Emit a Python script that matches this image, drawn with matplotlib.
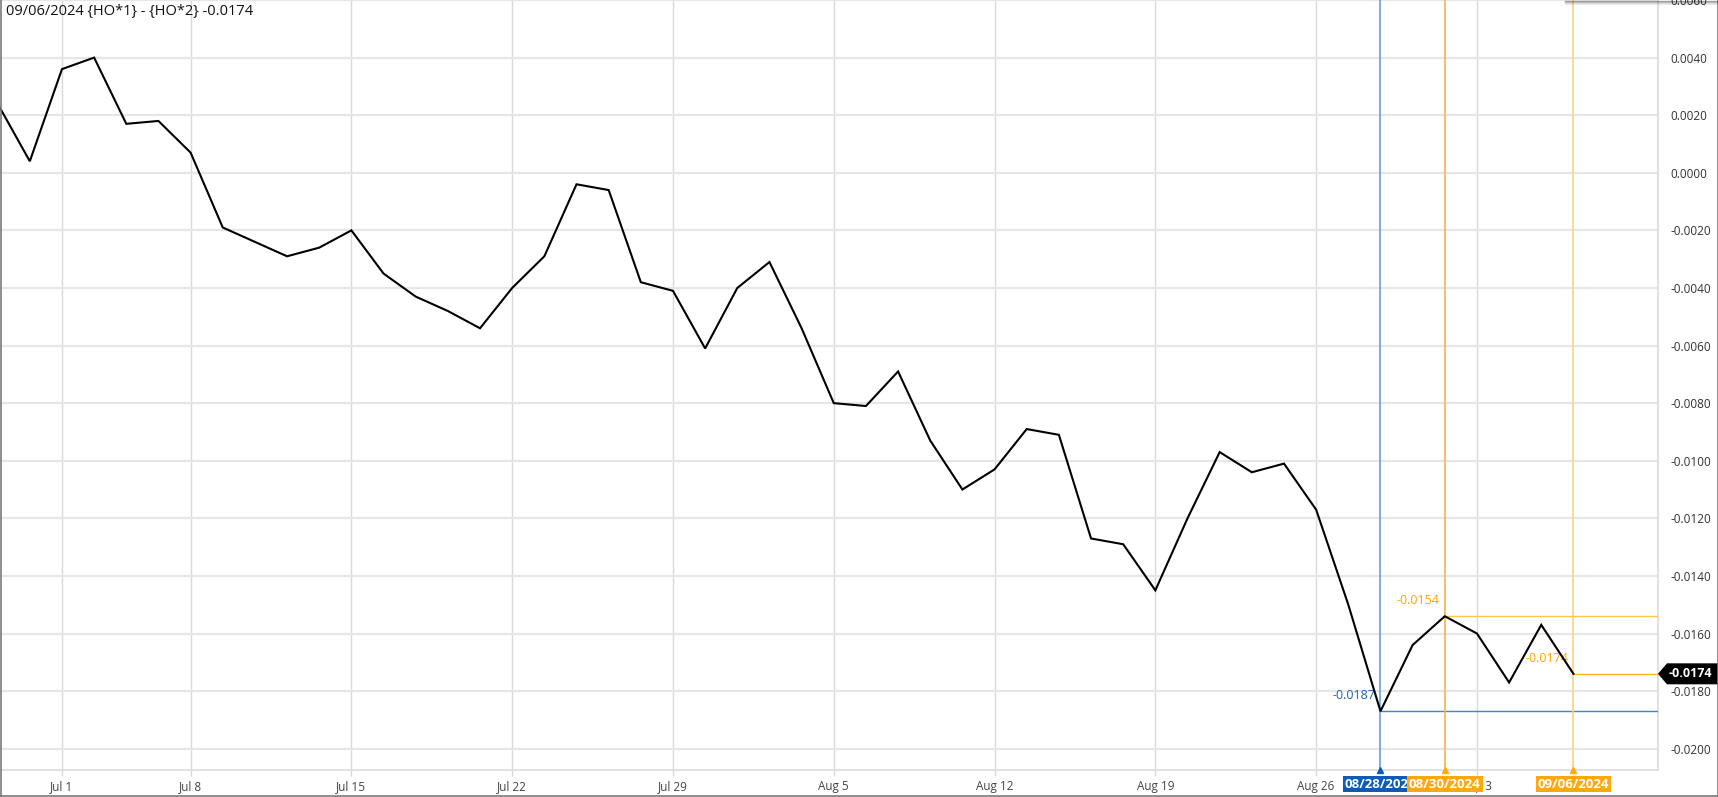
import matplotlib
matplotlib.use("Agg")
import matplotlib.pyplot as plt
from matplotlib.patches import Polygon
from matplotlib.lines import Line2D

plt.rcParams['font.family'] = ['Open Sans', 'DejaVu Sans']

# 거래일 (Jun 27 ~ Sep 6, 2024, 휴일 제외)
dates = ['06/27', '06/28', '07/01', '07/02', '07/03', '07/05',
         '07/08', '07/09', '07/10', '07/11', '07/12',
         '07/15', '07/16', '07/17', '07/18', '07/19',
         '07/22', '07/23', '07/24', '07/25', '07/26',
         '07/29', '07/30', '07/31', '08/01', '08/02',
         '08/05', '08/06', '08/07', '08/08', '08/09',
         '08/12', '08/13', '08/14', '08/15', '08/16',
         '08/19', '08/20', '08/21', '08/22', '08/23',
         '08/26', '08/27', '08/28', '08/29', '08/30',
         '09/03', '09/04', '09/05', '09/06']
spread = [0.0024, 0.0004, 0.0036, 0.0040, 0.0017, 0.0018,
          0.0007, -0.0019, -0.0024, -0.0029, -0.0026,
          -0.0020, -0.0035, -0.0043, -0.0048, -0.0054,
          -0.0040, -0.0029, -0.0004, -0.0006, -0.0038,
          -0.0041, -0.0061, -0.0040, -0.0031, -0.0054,
          -0.0080, -0.0081, -0.0069, -0.0093, -0.0110,
          -0.0103, -0.0089, -0.0091, -0.0127, -0.0129,
          -0.0145, -0.0120, -0.0097, -0.0104, -0.0101,
          -0.0117, -0.0150, -0.0187, -0.0164, -0.0154,
          -0.0160, -0.0177, -0.0157, -0.0174]

tick_dates = ['07/01', '07/08', '07/15', '07/22', '07/29',
              '08/05', '08/12', '08/19', '08/26', '09/03']
tick_labels = ['Jul 1', 'Jul 8', 'Jul 15', 'Jul 22', 'Jul 29',
               'Aug 5', 'Aug 12', 'Aug 19', 'Aug 26', 'Sep 3']
y_ticks = [-0.0200, -0.0180, -0.0160, -0.0140, -0.0120, -0.0100, -0.0080,
           -0.0060, -0.0040, -0.0020, 0.0000, 0.0020, 0.0040, 0.0060]

# 표시 마커 (날짜, 색)
blue_mark = ('08/28', '#0b5cb8', '#6b9fd9')
orange_marks = [('08/30', '#ffa70f', '#f9b443'), ('09/06', '#ffa70f', '#ffcf7a')]
title = '09/06/2024 {HO*1} - {HO*2} -0.0174'

x = list(range(len(dates)))
idx = {d: i for i, d in enumerate(dates)}

W, H = 1718, 797
fig = plt.figure(figsize=(W / 100, H / 100), dpi=100)
ax = fig.add_axes([0, 27 / H, 1658 / W, 770 / H])

ax.plot(x, spread, color='black', lw=1.5, zorder=5, solid_joinstyle='miter')
ax.set_xlim(0.073, 51.63)
ax.set_ylim(-0.02074, 0.0060)

# 축
ax.set_xticks([idx[d] for d in tick_dates])
ax.set_xticklabels(tick_labels)
ax.set_yticks(y_ticks)
ax.set_yticklabels(['%.4f' % v for v in y_ticks])
ax.yaxis.tick_right()
ax.tick_params(axis='y', length=0, pad=9, labelsize=8.5, labelcolor='#333333')
ax.tick_params(axis='x', length=4, width=1, color='#d8d8d8', pad=3,
               labelsize=8.5, labelcolor='#444444')
ax.grid(axis='y', color='#e6e6e6', lw=1.6)
ax.grid(axis='x', color='#d9d9d9', lw=1)
ax.set_axisbelow(True)
for s in ['top', 'left']:
    ax.spines[s].set_visible(False)
for s in ['right', 'bottom']:
    ax.spines[s].set_color('#dcdcdc')
    ax.spines[s].set_linewidth(1.2)

flag_style = dict(xycoords=('data', 'axes fraction'), xytext=(0, -14),
                  textcoords='offset pixels', ha='center', va='center',
                  fontsize=9.5, fontweight='bold', color='white',
                  annotation_clip=False)

# 파란 마커 (최저)
d, c_txt, c_line = blue_mark
i = idx[d]
v = spread[i]
ax.axvline(i, color=c_line, lw=1.2, zorder=3)
ax.hlines(v, i, 51.63, color='#3d85d0', lw=1, zorder=3)
ax.annotate('%.4f' % v, xy=(i, v), xytext=(-5, 9), textcoords='offset pixels',
            ha='right', va='bottom', fontsize=9, color='#1a62bd')
ax.annotate('08/28/2024', xy=(i, 0), zorder=6,
            bbox=dict(boxstyle='square,pad=0.15', fc=c_txt, ec='none'), **flag_style)
ax.plot([i], [0], marker='^', ms=5, color=c_txt, clip_on=False, zorder=6,
        transform=ax.get_xaxis_transform())

# 주황 마커
for k, (d, c_txt, c_line) in enumerate(orange_marks):
    i = idx[d]
    v = spread[i]
    ax.axvline(i, color=c_line, lw=1.2, zorder=3)
    ax.hlines(v, i, 51.63, color='#ffc54d' if k == 0 else '#ffb224', lw=1, zorder=3)
    ax.annotate('%.4f' % v, xy=(i, v), xytext=(-5, 9), textcoords='offset pixels',
                ha='right', va='bottom', fontsize=9, color='#ffa500')
    ax.annotate(dates[i][:2] + '/' + dates[i][3:] + '/2024', xy=(i, 0), zorder=7 + k,
                bbox=dict(boxstyle='square,pad=0.15', fc=c_txt, ec='none'),
                **flag_style)
    ax.plot([i], [0], marker='^', ms=5, color=c_txt, clip_on=False, zorder=7 + k,
            transform=ax.get_xaxis_transform())

# 마지막 값 태그
last = spread[-1]
tr = ax.get_yaxis_transform()
dx = 1 / 1658
dy = 1 / 28800
tag = Polygon([(1.0, last), (1 + 9 * dx, last + 10.5 * dy),
               (1 + 62 * dx, last + 10.5 * dy), (1 + 62 * dx, last - 10.5 * dy),
               (1 + 9 * dx, last - 10.5 * dy)],
              closed=True, transform=tr, fc='black', ec='none',
              clip_on=False, zorder=8)
ax.add_patch(tag)
ax.text(1 + 11 * dx, last, '%.4f' % last, transform=tr, ha='left', va='center',
        fontsize=9, fontweight='bold', color='white', zorder=9)

# 제목
fig.text(6 / W, 1 - 12 / H, title, ha='left', va='center', fontsize=10.5,
         color='#111111')

# 테두리와 그림자
fig.add_artist(Line2D([0.5 / W, 0.5 / W], [0, 1], color='#7a7a7a', lw=1.2))
fig.add_artist(Line2D([0, 1], [1 / H, 1 / H], color='#7a7a7a', lw=1.2))
fig.add_artist(Line2D([1 - 0.5 / W, 1 - 0.5 / W], [0, 1], color='#7a7a7a', lw=1.2))
for j, a in enumerate([0.35, 0.2, 0.1, 0.05]):
    fig.add_artist(Line2D([1565 / W, 1], [1 - (0.5 + j) / H] * 2, color='black',
                          alpha=a, lw=1))

fig.savefig('out.png', dpi=100)
